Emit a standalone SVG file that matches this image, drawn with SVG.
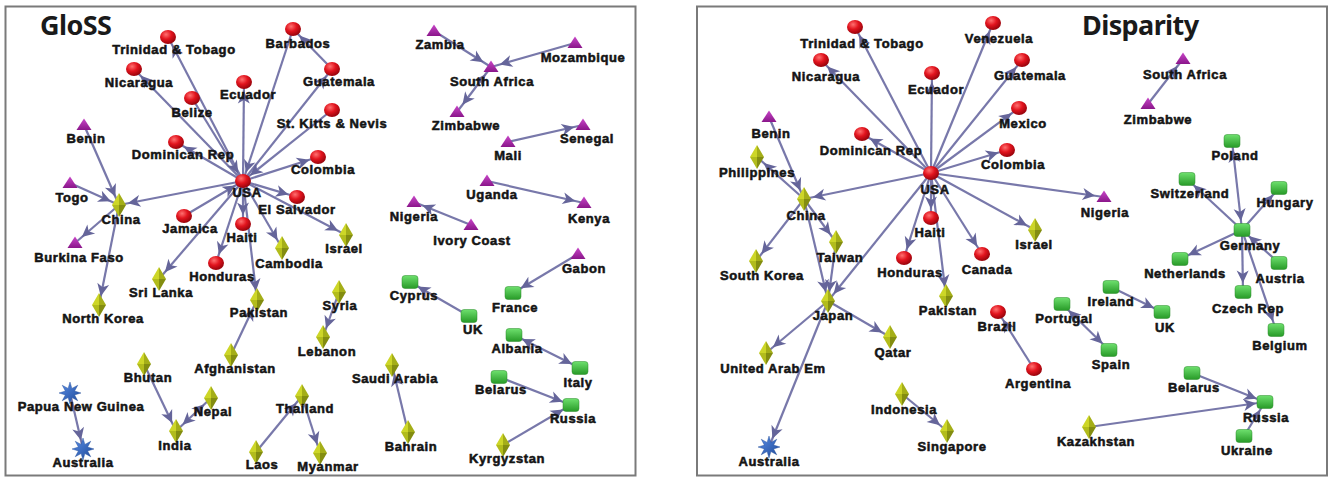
<svg xmlns="http://www.w3.org/2000/svg" xmlns:xlink="http://www.w3.org/1999/xlink" width="1332" height="477" viewBox="0 0 1332 477">
<style>
.lb{font-family:"Liberation Sans",Arial,sans-serif;font-weight:bold;font-size:13px;letter-spacing:0.6px;text-anchor:middle;fill:#141414;stroke:#141414;stroke-width:0.55px;stroke-linejoin:round}
.tt{font-family:"Noto Sans","Open Sans",sans-serif;font-weight:bold;font-size:27px;fill:#1a1a1a;letter-spacing:-0.6px}
.frame{fill:#fff;stroke:#7a7a7a;stroke-width:2}
.edges path{stroke:#7878aa;stroke-width:2.2;fill:none;marker-end:url(#ah)}
.edges path.b{marker-start:url(#ah)}
</style>
<defs>
<marker id="ah" markerUnits="userSpaceOnUse" markerWidth="34" markerHeight="14" viewBox="0 0 34 14" refX="22" refY="7" orient="auto-start-reverse"><path d="M0.5,1 L13,7 L0.5,13 L4,7 z" fill="#65659a"/></marker>
<radialGradient id="gR" cx="0.38" cy="0.32" r="0.75"><stop offset="0" stop-color="#ff7070"/><stop offset="0.45" stop-color="#e2141e"/><stop offset="1" stop-color="#8a0008"/></radialGradient>
<linearGradient id="gT" x1="0" y1="0" x2="0" y2="1"><stop offset="0" stop-color="#c846c8"/><stop offset="1" stop-color="#8a168a"/></linearGradient>
<linearGradient id="gS" x1="0" y1="0" x2="0" y2="1"><stop offset="0" stop-color="#6ee06e"/><stop offset="1" stop-color="#279a27"/></linearGradient>
<linearGradient id="gB" x1="0" y1="0" x2="1" y2="1"><stop offset="0" stop-color="#5b8fe8"/><stop offset="1" stop-color="#1c4796"/></linearGradient>
<g id="sR"><ellipse rx="8" ry="7" fill="url(#gR)"/></g>
<g id="sT"><polygon points="0,-6.5 7.5,5 -7.5,5" fill="url(#gT)"/></g>
<g id="sS"><rect x="-8" y="-6.5" width="16" height="13" rx="3" fill="url(#gS)" stroke="#2a8a2a" stroke-width="0.5"/></g>
<g id="sD"><polygon points="0,-12 -7,0 0,0" fill="#cdd628"/><polygon points="0,-12 0,0 7,0" fill="#a4ae18"/><polygon points="-7,0 0,12 0,0" fill="#b2bc1c"/><polygon points="0,0 0,12 7,0" fill="#838d10"/></g>
<g id="sB"><polygon points="0,-11 1.91,-4.62 7.78,-7.78 4.62,-1.91 11,0 4.62,1.91 7.78,7.78 1.91,4.62 0,11 -1.91,4.62 -7.78,7.78 -4.62,1.91 -11,0 -4.62,-1.91 -7.78,-7.78 -1.91,-4.62" fill="url(#gB)" stroke="#1c4796" stroke-width="0.4"/></g>
</defs>
<rect x="0" y="0" width="1332" height="477" fill="#fff"/>
<rect class="frame" x="5.5" y="6.5" width="630" height="469"/>
<rect class="frame" x="697" y="6.5" width="630" height="469"/>
<text class="tt" x="40" y="35">GloSS</text>
<text class="tt" x="1082" y="35">Disparity</text>

<g id="connectors-gloss" class="edges">
<path d="M243 181L168 37"/><path d="M243 181L134 69"/><path d="M243 181L244 82"/><path d="M243 181L332 69"/>
<path d="M243 181L318 157"/><path d="M243 181L176 142"/><path d="M243 181L297 197"/><path d="M243 181L119 205"/>
<path d="M243 181L346 235"/><path d="M243 181L282 248"/><path d="M243 181L257 300"/><path d="M243 181L216 263"/>
<path d="M243 181L159 279"/><path d="M243 181L243 224"/>
<path d="M192 98L243 181"/><path d="M293 29L243 181"/><path d="M332 110L243 181"/><path d="M184 216L243 181"/>
<path d="M332 69L293 29"/><path d="M84 125L119 205"/><path d="M70 183L119 205"/><path d="M119 205L75 243"/><path d="M119 205L99 305"/>
<path d="M434 31L491 67"/><path d="M575 43L491 67"/><path class="b" d="M491 67L457 112"/><path d="M508 142L583 125"/>
<path d="M487 181L584 203"/><path d="M471 225L414 202"/><path d="M578 254L513 293"/><path d="M469 316L410 282"/>
<path class="b" d="M514 335L580 368"/><path d="M499 377L571 405"/><path d="M503 445L571 405"/><path d="M408 432L392 365"/>
<path d="M339 292L323 337"/><path d="M231 355L257 300"/><path d="M144 364L176 431"/><path class="b" d="M211 398L176 431"/>
<path d="M70 393L83 449"/><path d="M256 452L302 396"/><path d="M302 396L320 453"/>
</g>

<g id="connectors-disparity" class="edges">
<path d="M931 173L855 27"/><path d="M931 173L821 60"/><path d="M931 173L993 23"/><path d="M931 173L932 73"/>
<path d="M931 173L1022 60"/><path d="M931 173L1019 108"/><path d="M931 173L1007 150"/><path d="M931 173L862 134"/>
<path d="M931 173L804 199"/><path d="M931 173L1104 197"/><path d="M931 173L1035 230"/><path d="M931 173L982 254"/>
<path d="M931 173L946 296"/><path d="M931 173L904 258"/><path d="M931 173L828 301"/><path d="M931 173L931 218"/>
<path d="M769 117L804 199"/><path d="M804 199L757 157"/><path d="M804 199L836 242"/><path d="M804 199L756 261"/>
<path d="M804 199L828 301"/><path d="M836 242L828 301"/><path d="M828 301L890 337"/><path d="M828 301L766 353"/>
<path d="M828 301L769 447"/><path d="M902 394L947 431"/><path d="M1034 369L998 312"/><path d="M1148 104L1183 59"/>
<path class="b" d="M1232 141L1242 230"/><path d="M1242 230L1187 179"/><path d="M1242 230L1279 188"/><path d="M1242 230L1180 259"/>
<path d="M1242 230L1243 292"/><path d="M1242 230L1276 330"/><path d="M1279 263L1242 230"/><path d="M1111 287L1162 312"/>
<path class="b" d="M1062 304L1109 350"/><path d="M1192 373L1265 402"/><path d="M1089 427L1265 402"/><path d="M1244 436L1265 402"/>
</g>

<g id="gloss-nodes">
<g id="l-usa"><use href="#sR" x="243" y="181"/><text class="lb" x="247" y="197">USA</text></g>
<g id="l-trinidad"><use href="#sR" x="168" y="37"/><text class="lb" x="174" y="54">Trinidad &amp; Tobago</text></g>
<g id="l-barbados"><use href="#sR" x="293" y="29"/><text class="lb" x="298" y="48">Barbados</text></g>
<g id="l-nicaragua"><use href="#sR" x="134" y="69"/><text class="lb" x="139" y="87">Nicaragua</text></g>
<g id="l-ecuador"><use href="#sR" x="244" y="82"/><text class="lb" x="248" y="99">Ecuador</text></g>
<g id="l-belize"><use href="#sR" x="192" y="98"/><text class="lb" x="192" y="117">Belize</text></g>
<g id="l-guatemala"><use href="#sR" x="332" y="69"/><text class="lb" x="339" y="86">Guatemala</text></g>
<g id="l-stkitts"><use href="#sR" x="332" y="110"/><text class="lb" x="332" y="128">St. Kitts &amp; Nevis</text></g>
<g id="l-domrep"><use href="#sR" x="176" y="142"/><text class="lb" x="183" y="159">Dominican Rep</text></g>
<g id="l-colombia"><use href="#sR" x="318" y="157"/><text class="lb" x="323" y="174">Colombia</text></g>
<g id="l-elsalvador"><use href="#sR" x="297" y="197"/><text class="lb" x="297" y="214">El Salvador</text></g>
<g id="l-jamaica"><use href="#sR" x="184" y="216"/><text class="lb" x="190" y="233">Jamaica</text></g>
<g id="l-haiti"><use href="#sR" x="243" y="224"/><text class="lb" x="242" y="242">Haiti</text></g>
<g id="l-honduras"><use href="#sR" x="216" y="263"/><text class="lb" x="222" y="281">Honduras</text></g>
<g id="l-benin"><use href="#sT" x="84" y="125"/><text class="lb" x="86" y="143">Benin</text></g>
<g id="l-togo"><use href="#sT" x="70" y="183"/><text class="lb" x="72" y="202">Togo</text></g>
<g id="l-china"><use href="#sD" x="119" y="205"/><text class="lb" x="121" y="224">China</text></g>
<g id="l-burkina"><use href="#sT" x="75" y="243"/><text class="lb" x="79" y="262">Burkina Faso</text></g>
<g id="l-northkorea"><use href="#sD" x="99" y="305"/><text class="lb" x="103" y="323">North Korea</text></g>
<g id="l-srilanka"><use href="#sD" x="159" y="279"/><text class="lb" x="161" y="297">Sri Lanka</text></g>
<g id="l-cambodia"><use href="#sD" x="282" y="248"/><text class="lb" x="289" y="268">Cambodia</text></g>
<g id="l-israel"><use href="#sD" x="346" y="235"/><text class="lb" x="344" y="253">Israel</text></g>
<g id="l-pakistan"><use href="#sD" x="257" y="300"/><text class="lb" x="259" y="317">Pakistan</text></g>
<g id="l-afghanistan"><use href="#sD" x="231" y="355"/><text class="lb" x="235" y="373">Afghanistan</text></g>
<g id="l-syria"><use href="#sD" x="339" y="292"/><text class="lb" x="340" y="310">Syria</text></g>
<g id="l-lebanon"><use href="#sD" x="323" y="337"/><text class="lb" x="327" y="356">Lebanon</text></g>
<g id="l-bhutan"><use href="#sD" x="144" y="364"/><text class="lb" x="148" y="382">Bhutan</text></g>
<g id="l-nepal"><use href="#sD" x="211" y="398"/><text class="lb" x="213" y="416">Nepal</text></g>
<g id="l-india"><use href="#sD" x="176" y="431"/><text class="lb" x="175" y="450">India</text></g>
<g id="l-thailand"><use href="#sD" x="302" y="396"/><text class="lb" x="305" y="413">Thailand</text></g>
<g id="l-laos"><use href="#sD" x="256" y="452"/><text class="lb" x="262" y="469">Laos</text></g>
<g id="l-myanmar"><use href="#sD" x="320" y="453"/><text class="lb" x="328" y="471">Myanmar</text></g>
<g id="l-papua"><use href="#sB" x="70" y="393"/><text class="lb" x="81" y="411">Papua New Guinea</text></g>
<g id="l-australia"><use href="#sB" x="83" y="449"/><text class="lb" x="83" y="467">Australia</text></g>
<g id="l-zambia"><use href="#sT" x="434" y="31"/><text class="lb" x="440" y="49">Zambia</text></g>
<g id="l-mozambique"><use href="#sT" x="575" y="43"/><text class="lb" x="583" y="62">Mozambique</text></g>
<g id="l-southafrica"><use href="#sT" x="491" y="67"/><text class="lb" x="492" y="86">South Africa</text></g>
<g id="l-zimbabwe"><use href="#sT" x="457" y="112"/><text class="lb" x="466" y="130">Zimbabwe</text></g>
<g id="l-senegal"><use href="#sT" x="583" y="125"/><text class="lb" x="587" y="143">Senegal</text></g>
<g id="l-mali"><use href="#sT" x="508" y="142"/><text class="lb" x="508" y="160">Mali</text></g>
<g id="l-uganda"><use href="#sT" x="487" y="181"/><text class="lb" x="492" y="199">Uganda</text></g>
<g id="l-kenya"><use href="#sT" x="584" y="203"/><text class="lb" x="589" y="223">Kenya</text></g>
<g id="l-nigeria"><use href="#sT" x="414" y="202"/><text class="lb" x="414" y="221">Nigeria</text></g>
<g id="l-ivorycoast"><use href="#sT" x="471" y="225"/><text class="lb" x="472" y="245">Ivory Coast</text></g>
<g id="l-gabon"><use href="#sT" x="578" y="254"/><text class="lb" x="584" y="273">Gabon</text></g>
<g id="l-cyprus"><use href="#sS" x="410" y="282"/><text class="lb" x="414" y="300">Cyprus</text></g>
<g id="l-france"><use href="#sS" x="513" y="293"/><text class="lb" x="515" y="312">France</text></g>
<g id="l-uk"><use href="#sS" x="469" y="316"/><text class="lb" x="473" y="334">UK</text></g>
<g id="l-albania"><use href="#sS" x="514" y="335"/><text class="lb" x="517" y="353">Albania</text></g>
<g id="l-italy"><use href="#sS" x="580" y="368"/><text class="lb" x="578" y="387">Italy</text></g>
<g id="l-saudi"><use href="#sD" x="392" y="365"/><text class="lb" x="395" y="383">Saudi Arabia</text></g>
<g id="l-belarus"><use href="#sS" x="499" y="377"/><text class="lb" x="501" y="394">Belarus</text></g>
<g id="l-russia"><use href="#sS" x="571" y="405"/><text class="lb" x="573" y="423">Russia</text></g>
<g id="l-bahrain"><use href="#sD" x="408" y="432"/><text class="lb" x="411" y="451">Bahrain</text></g>
<g id="l-kyrgyzstan"><use href="#sD" x="503" y="445"/><text class="lb" x="507" y="463">Kyrgyzstan</text></g>
</g>

<g id="disparity-nodes">
<g id="r-usa"><use href="#sR" x="931" y="173"/><text class="lb" x="935" y="194">USA</text></g>
<g id="r-trinidad"><use href="#sR" x="855" y="27"/><text class="lb" x="862" y="48">Trinidad &amp; Tobago</text></g>
<g id="r-venezuela"><use href="#sR" x="993" y="23"/><text class="lb" x="999" y="43">Venezuela</text></g>
<g id="r-nicaragua"><use href="#sR" x="821" y="60"/><text class="lb" x="826" y="81">Nicaragua</text></g>
<g id="r-ecuador"><use href="#sR" x="932" y="73"/><text class="lb" x="936" y="94">Ecuador</text></g>
<g id="r-guatemala"><use href="#sR" x="1022" y="60"/><text class="lb" x="1030" y="80">Guatemala</text></g>
<g id="r-mexico"><use href="#sR" x="1019" y="108"/><text class="lb" x="1023" y="128">Mexico</text></g>
<g id="r-colombia"><use href="#sR" x="1007" y="150"/><text class="lb" x="1013" y="169">Colombia</text></g>
<g id="r-domrep"><use href="#sR" x="862" y="134"/><text class="lb" x="871" y="155">Dominican Rep</text></g>
<g id="r-haiti"><use href="#sR" x="931" y="218"/><text class="lb" x="930" y="237">Haiti</text></g>
<g id="r-honduras"><use href="#sR" x="904" y="258"/><text class="lb" x="910" y="277">Honduras</text></g>
<g id="r-canada"><use href="#sR" x="982" y="254"/><text class="lb" x="987" y="274">Canada</text></g>
<g id="r-brazil"><use href="#sR" x="998" y="312"/><text class="lb" x="997" y="331">Brazil</text></g>
<g id="r-argentina"><use href="#sR" x="1034" y="369"/><text class="lb" x="1038" y="388">Argentina</text></g>
<g id="r-benin"><use href="#sT" x="769" y="117"/><text class="lb" x="771" y="138">Benin</text></g>
<g id="r-philippines"><use href="#sD" x="757" y="157"/><text class="lb" x="757" y="177">Philippines</text></g>
<g id="r-china"><use href="#sD" x="804" y="199"/><text class="lb" x="806" y="220">China</text></g>
<g id="r-taiwan"><use href="#sD" x="836" y="242"/><text class="lb" x="840" y="262">Taiwan</text></g>
<g id="r-southkorea"><use href="#sD" x="756" y="261"/><text class="lb" x="762" y="280">South Korea</text></g>
<g id="r-japan"><use href="#sD" x="828" y="301"/><text class="lb" x="833" y="320">Japan</text></g>
<g id="r-qatar"><use href="#sD" x="890" y="337"/><text class="lb" x="893" y="357">Qatar</text></g>
<g id="r-uae"><use href="#sD" x="766" y="353"/><text class="lb" x="773" y="373">United Arab Em</text></g>
<g id="r-indonesia"><use href="#sD" x="902" y="394"/><text class="lb" x="904" y="414">Indonesia</text></g>
<g id="r-singapore"><use href="#sD" x="947" y="431"/><text class="lb" x="952" y="451">Singapore</text></g>
<g id="r-australia"><use href="#sB" x="769" y="447"/><text class="lb" x="769" y="466">Australia</text></g>
<g id="r-israel"><use href="#sD" x="1035" y="230"/><text class="lb" x="1034" y="249">Israel</text></g>
<g id="r-pakistan"><use href="#sD" x="946" y="296"/><text class="lb" x="948" y="315">Pakistan</text></g>
<g id="r-nigeria"><use href="#sT" x="1104" y="197"/><text class="lb" x="1105" y="217">Nigeria</text></g>
<g id="r-southafrica"><use href="#sT" x="1183" y="59"/><text class="lb" x="1185" y="79">South Africa</text></g>
<g id="r-zimbabwe"><use href="#sT" x="1148" y="104"/><text class="lb" x="1158" y="124">Zimbabwe</text></g>
<g id="r-poland"><use href="#sS" x="1232" y="141"/><text class="lb" x="1235" y="160">Poland</text></g>
<g id="r-switzerland"><use href="#sS" x="1187" y="179"/><text class="lb" x="1190" y="198">Switzerland</text></g>
<g id="r-hungary"><use href="#sS" x="1279" y="188"/><text class="lb" x="1285" y="207">Hungary</text></g>
<g id="r-germany"><use href="#sS" x="1242" y="230"/><text class="lb" x="1250" y="250">Germany</text></g>
<g id="r-netherlands"><use href="#sS" x="1180" y="259"/><text class="lb" x="1185" y="278">Netherlands</text></g>
<g id="r-austria"><use href="#sS" x="1279" y="263"/><text class="lb" x="1280" y="283">Austria</text></g>
<g id="r-czech"><use href="#sS" x="1243" y="292"/><text class="lb" x="1248" y="313">Czech Rep</text></g>
<g id="r-belgium"><use href="#sS" x="1276" y="330"/><text class="lb" x="1280" y="350">Belgium</text></g>
<g id="r-ireland"><use href="#sS" x="1111" y="287"/><text class="lb" x="1111" y="306">Ireland</text></g>
<g id="r-portugal"><use href="#sS" x="1062" y="304"/><text class="lb" x="1064" y="323">Portugal</text></g>
<g id="r-uk"><use href="#sS" x="1162" y="312"/><text class="lb" x="1165" y="332">UK</text></g>
<g id="r-spain"><use href="#sS" x="1109" y="350"/><text class="lb" x="1111" y="369">Spain</text></g>
<g id="r-belarus"><use href="#sS" x="1192" y="373"/><text class="lb" x="1194" y="392">Belarus</text></g>
<g id="r-russia"><use href="#sS" x="1265" y="402"/><text class="lb" x="1266" y="422">Russia</text></g>
<g id="r-kazakhstan"><use href="#sD" x="1089" y="427"/><text class="lb" x="1096" y="446">Kazakhstan</text></g>
<g id="r-ukraine"><use href="#sS" x="1244" y="436"/><text class="lb" x="1247" y="455">Ukraine</text></g>
</g>
</svg>
